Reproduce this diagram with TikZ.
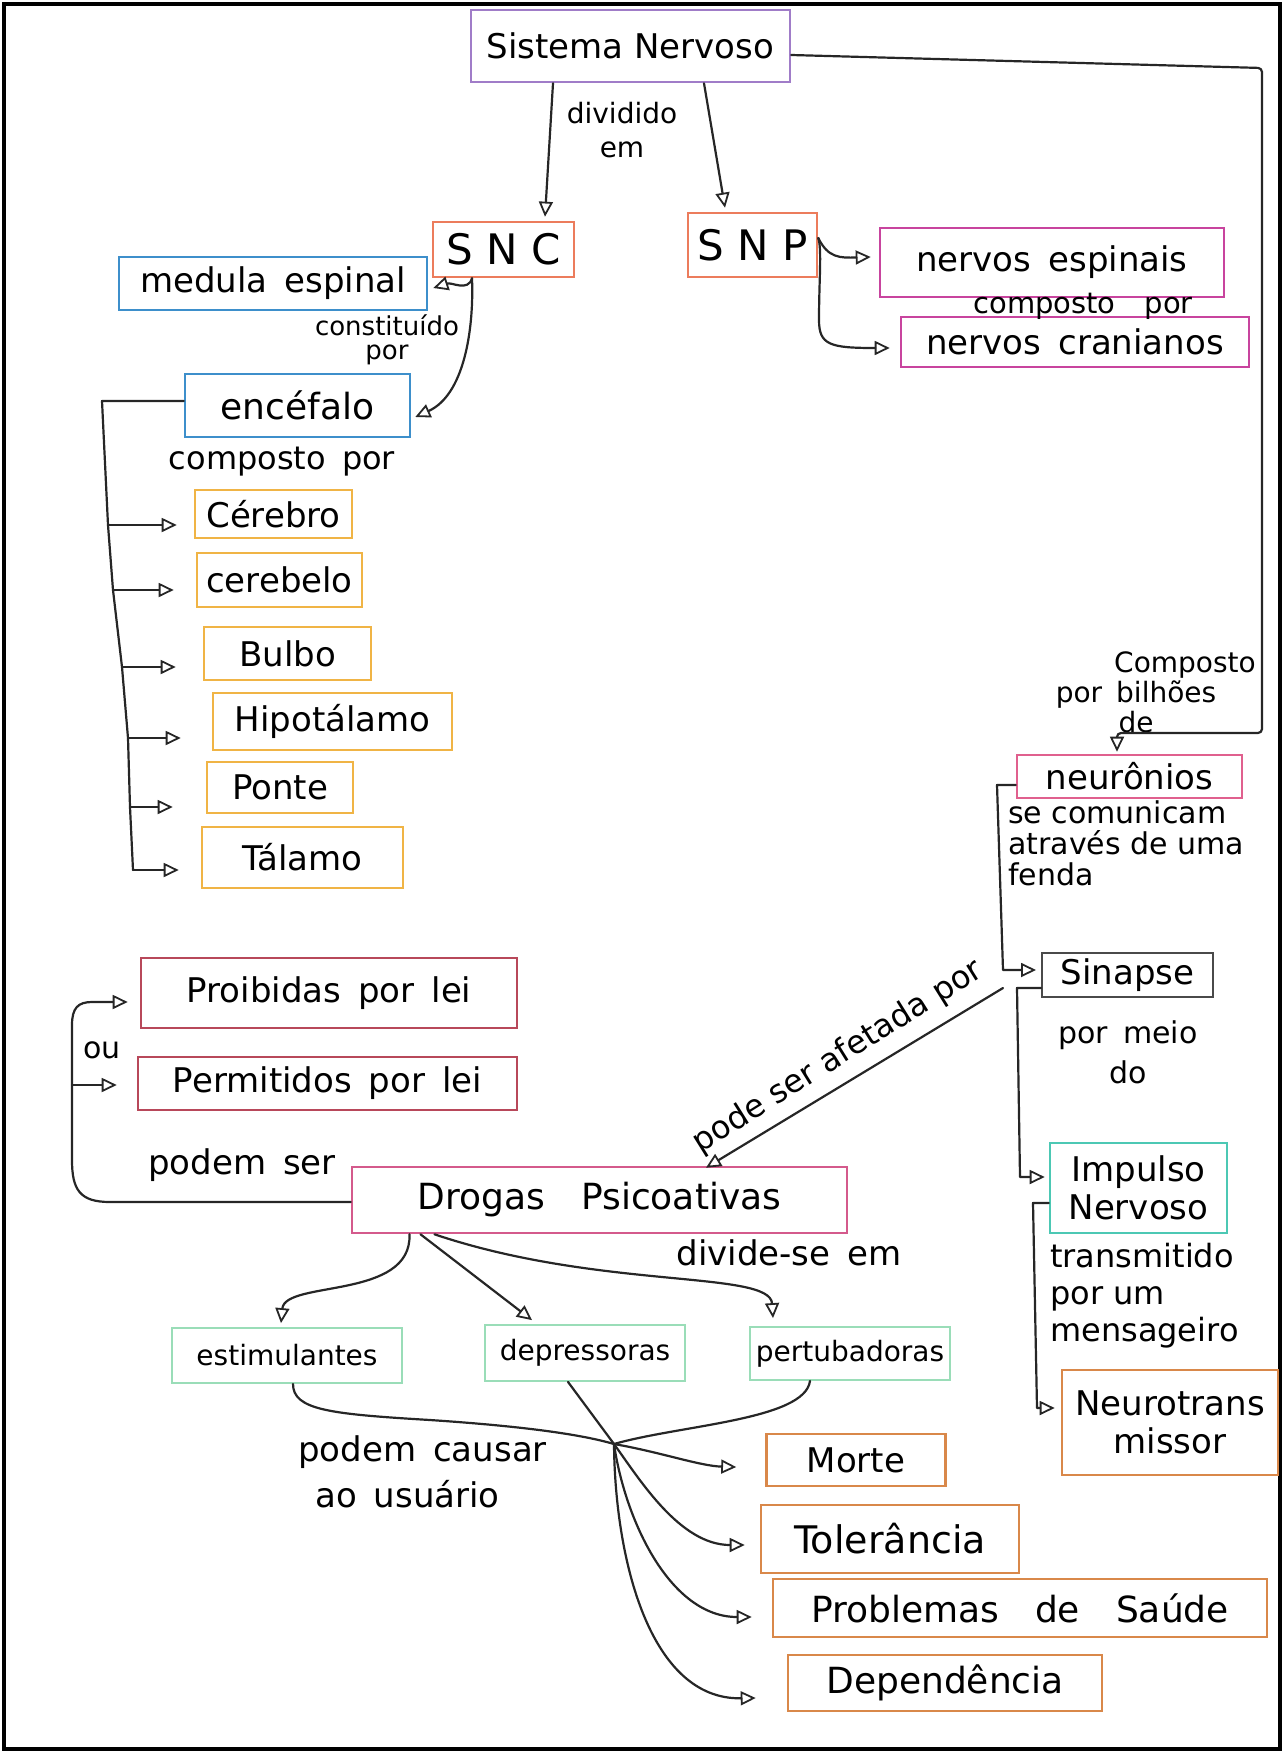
\documentclass[tikz,border=0pt]{standalone}
\usepackage{fontspec}
\setmainfont{DejaVu Sans}
\usetikzlibrary{arrows.meta,calc}
\definecolor{cpurple}{HTML}{A07CC8}
\definecolor{csalmon}{HTML}{EC7C5C}
\definecolor{cblue}{HTML}{3D8FCB}
\definecolor{cmag}{HTML}{C8449E}
\definecolor{cyellow}{HTML}{F0B445}
\definecolor{cpink}{HTML}{E0608E}
\definecolor{cgray}{HTML}{4A4A4A}
\definecolor{cteal}{HTML}{4CC8B4}
\definecolor{corange}{HTML}{D9884A}
\definecolor{cmaroon}{HTML}{B8485A}
\definecolor{cdrog}{HTML}{D45A8C}
\definecolor{cgreen}{HTML}{9ADDB8}
\begin{document}
\begin{tikzpicture}[x=1pt,y=-1pt,
  box/.style={draw=#1, line width=2.6pt, inner sep=0pt, align=center, text=black,
    font=\fontsize{34}{38}\selectfont},
  gbox/.style={box=cgreen, line width=1.8pt, font=\fontsize{28}{32}\selectfont},
  lbl/.style={inner sep=0pt, text=black, font=\fontsize{30}{34}\selectfont},
  conn/.style={line width=2.2pt, draw=black!85, line cap=round, line join=round},
  arr/.style={conn, -{Triangle[open, length=15pt, width=14pt, line width=1.8pt]}},
]
\useasboundingbox (0,0) rectangle (1284,1753);
\draw[line width=4pt] (4,4) rectangle (1280,1749);

% ---------- nodes ----------
\node[box=cpurple, minimum width=319pt, minimum height=72pt] (sn) at (630.5,46) {Sistema Nervoso};
\node[box=csalmon, minimum width=141pt, minimum height=55pt, font=\fontsize{42}{46}\selectfont] (snc) at (503.5,249.5) {S N C};
\node[box=csalmon, minimum width=129pt, minimum height=64pt, font=\fontsize{42}{46}\selectfont] (snp) at (752.5,245) {S N P};
\node[box=cblue, minimum width=308pt, minimum height=53pt] (med) at (273,283.5) {medula\enspace espinal};
\node[box=cblue, minimum width=225pt, minimum height=63pt, font=\fontsize{36}{40}\selectfont] (enc) at (297.5,405.5) {encéfalo};
\node[box=cyellow, minimum width=157pt, minimum height=48pt] (cer) at (273.5,514) {Cérebro};
\node[box=cyellow, minimum width=165pt, minimum height=54pt] (cbl) at (279.5,580) {cerebelo};
\node[box=cyellow, minimum width=167pt, minimum height=53pt] (bul) at (287.5,653.5) {Bulbo};
\node[box=cyellow, minimum width=239pt, minimum height=57pt] (hip) at (332.5,721.5) {Hipotálamo};
\node[box=cyellow, minimum width=146pt, minimum height=51pt] (pon) at (280,787.5) {Ponte};
\node[box=cyellow, minimum width=201pt, minimum height=61pt] (tal) at (302.5,857.5) {Tálamo};
\node[box=cmag, minimum width=344pt, minimum height=69pt] (nesp) at (1052,262.5) {nervos\enspace espinais};
\node[box=cmag, minimum width=348pt, minimum height=50pt] (ncra) at (1075,342) {nervos\enspace cranianos};
\node[box=cpink, minimum width=225pt, minimum height=43pt] (neu) at (1129.5,776.5) {neurônios};
\node[box=cgray, line width=2pt, minimum width=171pt, minimum height=44pt] (sin) at (1127.5,975) {Sinapse};
\node[box=cteal, minimum width=177pt, minimum height=90pt] (imp) at (1138.5,1188) {Impulso\\Nervoso};
\node[box=corange, minimum width=216pt, minimum height=105pt] (ntr) at (1170,1422.5) {Neurotrans\\missor};
\node[box=cmaroon, minimum width=376pt, minimum height=70pt] (pro) at (329,993) {Proibidas\enspace por\enspace lei};
\node[box=cmaroon, minimum width=379pt, minimum height=53pt] (per) at (327.5,1083.5) {Permitidos\enspace por\enspace lei};
\node[box=cdrog, minimum width=495pt, minimum height=66pt, font=\fontsize{36}{40}\selectfont] (dro) at (599.5,1200) {Drogas\quad Psicoativas};
\node[gbox, minimum width=230pt, minimum height=55pt] (est) at (287,1355.5) {estimulantes};
\node[gbox, minimum width=200pt, minimum height=56pt] (dep) at (585,1353) {depressoras};
\node[gbox, minimum width=200pt, minimum height=53pt] (pert) at (850,1353.5) {pertubadoras};
\node[box=corange, minimum width=179pt, minimum height=52pt] (mor) at (856,1460) {Morte};
\node[box=corange, minimum width=258pt, minimum height=68pt, font=\fontsize{38}{42}\selectfont] (tol) at (890,1539) {Tolerância};
\node[box=corange, minimum width=494pt, minimum height=58pt, font=\fontsize{36}{40}\selectfont] (prob) at (1020,1608) {Problemas\quad de\quad Saúde};
\node[box=corange, minimum width=314pt, minimum height=56pt, font=\fontsize{36}{40}\selectfont] (dpd) at (945,1683) {Dependência};

% ---------- labels ----------
\node[lbl, align=center, font=\fontsize{28}{34}\selectfont] (l1) at (622,130) {dividido\\em};
\node[lbl, align=center, font=\fontsize{26}{24}\selectfont] (l2) at (387,340) {constituído\\por};
\node[lbl, font=\fontsize{32}{36}\selectfont] (l3) at (282,462) {composto\enspace por};
\node[lbl, font=\fontsize{29}{33}\selectfont] (l4) at (1083,306) {composto\quad por};
\node[lbl, align=center, font=\fontsize{28}{30}\selectfont] (l5) at (1136,692) {\hspace*{98pt}Composto\\por\enspace bilhões\\de};
\node[lbl, align=left, anchor=north west, font=\fontsize{30}{31}\selectfont] (l6) at (1008,800) {se comunicam\\através de uma\\fenda};
\node[lbl, align=center, font=\fontsize{30}{40}\selectfont] (l7) at (1128,1052) {por\enspace meio\\do};
\node[lbl, align=left, anchor=north west, font=\fontsize{32}{37}\selectfont] (l8) at (1050,1243) {transmitido\\por um\\mensageiro};
\node[lbl, rotate=32, font=\fontsize{32}{36}\selectfont] (l9) at (838,1057) {pode ser afetada por};
\node[lbl] (l10) at (102,1050) {ou};
\node[lbl, font=\fontsize{34}{38}\selectfont] (l11) at (242,1165) {podem\enspace ser};
\node[lbl, font=\fontsize{34}{38}\selectfont] (l12) at (789,1253) {divide-se\enspace em};
\node[lbl, align=left, anchor=west, font=\fontsize{34}{46}\selectfont] (l13) at (298,1472) {podem\enspace causar\\\enspace ao\enspace usuário};

% ---------- coordinates ----------
\coordinate (c1) at (1262,68);
\coordinate (c2) at (1262,733);
\coordinate (c3) at (1117,733);
\coordinate (j0) at (102,401);
\coordinate (b1) at (108,525);
\coordinate (b2) at (113,590);
\coordinate (b3) at (122,667);
\coordinate (b4) at (128,738);
\coordinate (b5) at (130,807);
\coordinate (b6) at (133,870);
\coordinate (n1) at (997,785);
\coordinate (n2) at (1003,970);
\coordinate (s1) at (1017,988);
\coordinate (s2) at (1020,1177);
\coordinate (i1) at (1033,1203);
\coordinate (i2) at (1037,1408);
\coordinate (afs) at (1003,988);
\coordinate (dl) at (72,1085);
\coordinate (hub) at (614,1444);

% ---------- connectors ----------
\draw[arr] ([xshift=-77.5pt]sn.south) -- ([xshift=41.5pt,yshift=4pt]snc.north);
\draw[arr] ([xshift=73.5pt]sn.south) -- ([xshift=-27.5pt,yshift=4pt]snp.north);
\draw[arr, rounded corners=4pt] ([yshift=-9pt]sn.east) -- (c1) -- (c2) -- (c3) -- ([xshift=-12.5pt,yshift=2pt]neu.north);

\draw[arr] ([xshift=-31.5pt]snc.south) .. controls (468,292) and (452,282) .. ([xshift=5pt,yshift=-4.5pt]med.east);
\draw[arr] ([xshift=-31.5pt]snc.south) .. controls (474,330) and (464,395) .. ([xshift=4pt,yshift=-11.5pt]enc.east);

\draw[arr] ([yshift=7pt]snp.east) .. controls (828,258) and (840,258) .. ([xshift=-8pt,yshift=5.5pt]nesp.west);
\draw[arr] ([yshift=7pt]snp.east) .. controls (822,250) and (819,280) .. (819,320) .. controls (819,345) and (830,348) .. ([xshift=-10pt,yshift=-6pt]ncra.west);

\draw[conn] ([yshift=4.5pt]enc.west) -- (j0) -- (b1) -- (b2) -- (b3) -- (b4) -- (b5) -- (b6);
\draw[arr] (b1) -- ([xshift=-17pt,yshift=-11pt]cer.west);
\draw[arr] (b2) -- ([xshift=-22pt,yshift=-10pt]cbl.west);
\draw[arr] (b3) -- ([xshift=-27pt,yshift=-13.5pt]bul.west);
\draw[arr] (b4) -- ([xshift=-31pt,yshift=-16.5pt]hip.west);
\draw[arr] (b5) -- ([xshift=-33pt,yshift=-19.5pt]pon.west);
\draw[arr] (b6) -- ([xshift=-22pt,yshift=-12.5pt]tal.west);

\draw[arr] ([yshift=-8.5pt]neu.west) -- (n1) -- (n2) -- ([xshift=-5pt,yshift=5pt]sin.west);
\draw[arr] ([yshift=-13pt]sin.west) -- (s1) -- (s2) -- ([xshift=-4pt,yshift=11pt]imp.west);
\draw[arr] ([yshift=-15pt]imp.west) -- (i1) -- (i2) -- ([xshift=-6pt,yshift=14.5pt]ntr.west);

\draw[arr] (afs) -- ([xshift=106.5pt,yshift=-2pt]dro.north);

\draw[arr] ([yshift=-2pt]dro.west) -- (110,1202) .. controls (80,1202) and (72,1190) .. (72,1160) -- (72,1025) .. controls (72,1008) and (78,1002) .. (92,1002) -- ([xshift=-12pt,yshift=-9pt]pro.west);
\draw[arr] (dl) -- ([xshift=-20pt,yshift=-1.5pt]per.west);

\draw[arr] ([xshift=-190pt]dro.south) .. controls (412,1300) and (285,1280) .. ([xshift=-6pt,yshift=4pt]est.north);
\draw[arr] ([xshift=-179pt]dro.south) -- ([xshift=-53pt,yshift=4pt]dep.north);
\draw[arr] ([xshift=-165pt]dro.south) .. controls (600,1290) and (770,1270) .. ([xshift=-77pt,yshift=8pt]pert.north);

\draw[conn] ([xshift=6pt]est.south) .. controls (293,1410) and (330,1414) .. (430,1420) .. controls (520,1426) and (580,1434) .. (hub);
\draw[conn] ([xshift=-17pt]dep.south) -- (hub);
\draw[conn] ([xshift=-40pt]pert.south) .. controls (805,1420) and (680,1425) .. (hub);

\draw[arr] (hub) .. controls (660,1452) and (700,1466) .. ([xshift=-29pt,yshift=-7pt]mor.west);
\draw[arr] (hub) .. controls (640,1480) and (680,1545) .. ([xshift=-15pt,yshift=-6pt]tol.west);
\draw[arr] (hub) .. controls (625,1520) and (670,1617) .. ([xshift=-20pt,yshift=-9pt]prob.west);
\draw[arr] (hub) .. controls (615,1560) and (650,1700) .. ([xshift=-31pt,yshift=-15pt]dpd.west);
\end{tikzpicture}
\end{document}
